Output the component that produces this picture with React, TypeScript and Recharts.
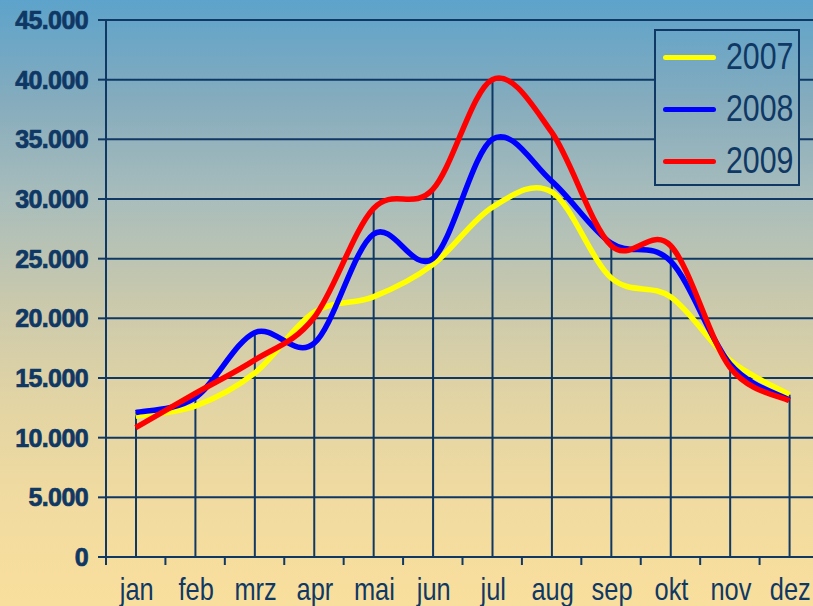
import { Bar, CartesianGrid, ComposedChart, Legend, Line, XAxis, YAxis } from "recharts";

const months = ["jan", "feb", "mrz", "apr", "mai", "jun", "jul", "aug", "sep", "okt", "nov", "dez"];
const y2007 = [11800, 12650, 15400, 20500, 21800, 24500, 29300, 30600, 23400, 21800, 16500, 13600];
const y2008 = [12100, 13350, 18800, 17900, 27050, 25000, 35000, 31500, 26300, 24800, 16200, 13150];
const y2009 = [10850, 13700, 16500, 20050, 29200, 30800, 40000, 35600, 26100, 26100, 15900, 13100];
const yTicks = [0, 5000, 10000, 15000, 20000, 25000, 30000, 35000, 40000, 45000];

const series = [
  { key: "2007", color: "#ffff00" },
  { key: "2008", color: "#0000ff" },
  { key: "2009", color: "#ff0000" },
];

const data = months.map((m, i) => ({
  month: m,
  "2007": y2007[i],
  "2008": y2008[i],
  "2009": y2009[i],
  peak: Math.max(y2007[i], y2008[i], y2009[i]),
}));

const NAVY = "#0f3864";
const BG =
  "linear-gradient(to bottom, #5da3cb 0%, #86acbd 17%, #a9bdbb 33%, #cac9ac 50%, #e2d4a4 66%, #f1dba0 83%, #f9df9d 100%)";
const SANS = "'Liberation Sans', Arial, sans-serif";

const CHART_W = 830;
const LEFT = 106;
const RIGHT_MARGIN = 11;
const BOTTOM = 557;
const HALF_BAND = (CHART_W - LEFT - RIGHT_MARGIN) / 12 / 2;

// Excel-style smoothed line (Bezier, control points from neighbours / 6)
const excelSmooth = (context: any) => {
  let pts: number[][] = [];
  return {
    areaStart() {},
    areaEnd() {},
    lineStart() {
      pts = [];
    },
    lineEnd() {
      if (!pts.length) return;
      context.moveTo(pts[0][0], pts[0][1]);
      for (let i = 0; i < pts.length - 1; i++) {
        const p0 = pts[i - 1] || pts[i];
        const p1 = pts[i];
        const p2 = pts[i + 1];
        const p3 = pts[i + 2] || p2;
        context.bezierCurveTo(
          p1[0] + (p2[0] - p0[0]) / 6,
          p1[1] + (p2[1] - p0[1]) / 6,
          p2[0] - (p3[0] - p1[0]) / 6,
          p2[1] - (p3[1] - p1[1]) / 6,
          p2[0],
          p2[1]
        );
      }
    },
    point(x: number, y: number) {
      pts.push([+x, +y]);
    },
  };
};

const fmt = (v: number) => (v === 0 ? "0" : `${Math.floor(v / 1000)}.${String(v % 1000).padStart(3, "0")}`);

const MonthTick = (props: any) => {
  const { x, payload } = props;
  return (
    <g>
      <line x1={x - HALF_BAND} y1={BOTTOM} x2={x - HALF_BAND} y2={BOTTOM + 8} stroke={NAVY} strokeWidth={2} />
      <text
        transform={`translate(${x + 1},${BOTTOM + 43}) scale(0.82,1)`}
        textAnchor="middle"
        fill={NAVY}
        fontSize={31}
        fontFamily={SANS}
      >
        {payload.value}
      </text>
    </g>
  );
};

const LegendBox = () => (
  <div
    style={{
      boxSizing: "border-box",
      width: 146,
      height: 157,
      border: `2px solid ${NAVY}`,
      background: BG,
      backgroundSize: "813px 606px",
      backgroundPosition: "-654px -29px",
    }}
  >
    {series.map((s) => (
      <div key={s.key} style={{ display: "flex", alignItems: "center", height: 52 }}>
        <div style={{ width: 53, height: 5, borderRadius: 3, background: s.color, marginLeft: 7, marginRight: 10, flexShrink: 0 }} />
        <span
          style={{
            display: "inline-block",
            fontFamily: SANS,
            fontSize: 37,
            color: NAVY,
            lineHeight: "52px",
            transform: "scaleX(0.82)",
            transformOrigin: "left center",
          }}
        >
          {s.key}
        </span>
      </div>
    ))}
  </div>
);

const App = () => {
  return (
    <div style={{ position: "absolute", left: 0, top: 0, width: 813, height: 606, overflow: "hidden", background: BG }}>
      <ComposedChart
        width={CHART_W}
        height={606}
        data={data}
        margin={{ top: 20, right: RIGHT_MARGIN, bottom: 0, left: 0 }}
      >
        <CartesianGrid vertical={false} stroke={NAVY} strokeWidth={2} />
        <XAxis
          dataKey="month"
          interval={0}
          axisLine={{ stroke: NAVY, strokeWidth: 2 }}
          tickLine={false}
          tick={<MonthTick />}
          height={606 - BOTTOM}
        />
        <YAxis
          width={LEFT}
          domain={[0, 45000]}
          ticks={yTicks}
          tickFormatter={fmt}
          axisLine={{ stroke: NAVY, strokeWidth: 2 }}
          tickLine={{ stroke: NAVY, strokeWidth: 2 }}
          tickSize={8}
          tickMargin={10}
          tick={{
            fill: NAVY,
            stroke: NAVY,
            strokeWidth: 0.7,
            fontSize: 25,
            fontWeight: "bold",
            fontFamily: SANS,
            letterSpacing: -0.6,
          }}
        />
        <Bar dataKey="peak" fill={NAVY} barSize={2} isAnimationActive={false} legendType="none" />
        {series.map((s) => (
          <Line
            key={s.key}
            dataKey={s.key}
            type={excelSmooth as any}
            stroke={s.color}
            strokeWidth={5.5}
            dot={false}
            activeDot={false}
            isAnimationActive={false}
          />
        ))}
        <Legend
          layout="vertical"
          align="center"
          verticalAlign="middle"
          content={<LegendBox />}
          wrapperStyle={{ left: 654, top: 29, width: 146, height: 157 }}
        />
      </ComposedChart>
    </div>
  );
};

export default App;
